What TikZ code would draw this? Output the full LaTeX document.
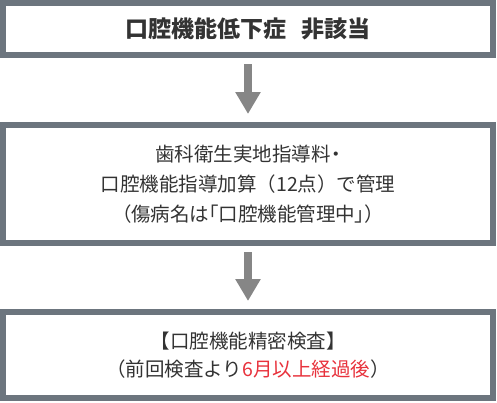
\documentclass[tikz,border=0pt]{standalone}
\usepackage{fontspec}
\setmainfont{Noto Sans CJK JP}
\usetikzlibrary{arrows.meta}
\definecolor{framegray}{HTML}{6C757E}
\definecolor{arrowgray}{HTML}{868686}
\definecolor{textgray}{HTML}{333333}
\definecolor{notered}{HTML}{E8323C}
\begin{document}
\begin{tikzpicture}
  [x=1pt,y=-1pt,
   stage/.style={rectangle,draw=framegray,line width=6pt,fill=white,
                 minimum width=490pt,inner sep=0pt,align=center,text=textgray},
   flow/.style={draw=arrowgray,line width=8pt,
                -{Triangle[width=24pt,length=22pt]},
                shorten <=6pt,shorten >=8pt}]
  \useasboundingbox (0,0) rectangle (497,402);
  \node at (248,29) (verdict) [stage,minimum height=52pt,
    font=\fontsize{23}{28}\selectfont\bfseries] {口腔機能低下症\hspace{0.65em}非該当};
  \node at (248,184) (manage) [stage,minimum height=118pt,
    font=\fontsize{19.5}{30}\selectfont]
    {歯科衛生実地指導料{\addfontfeatures{RawFeature=+palt}・}\\
     口腔機能指導加算（12点）で管理\\
     {\addfontfeatures{RawFeature=+palt}（傷病名は「口腔機能管理中」）}};
  \node at (248,355) (recheck) [stage,minimum height=86pt,
    font=\fontsize{19.5}{28}\selectfont]
    {【口腔機能精密検査】\\（前回検査より\textcolor{notered}{6月以上経過後}）};
  \draw [flow] (verdict) -- (manage);
  \draw [flow] (manage) -- (recheck);
\end{tikzpicture}
\end{document}
